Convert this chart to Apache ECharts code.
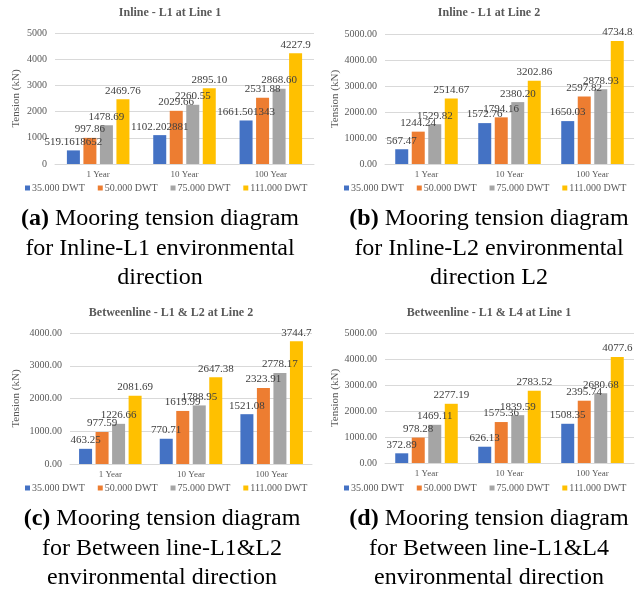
<!DOCTYPE html>
<html>
<head>
<meta charset="utf-8">
<script src="https://cdn.jsdelivr.net/npm/echarts@6/dist/echarts.min.js"></script>
<style>
html,body{margin:0;padding:0;background:#fff;}
#main{width:644px;height:593px;}
</style>
</head>
<body>
<div id="main"></div>
<script>
// ---- data ----
const categories = ['1 Year', '10 Year', '100 Year'];
const seriesNames = ['35.000 DWT', '50.000 DWT', '75.000 DWT', '111.000 DWT'];
const chartTitles = ['Inline - L1 at Line 1', 'Inline - L1 at Line 2', 'Betweenline - L1 & L2 at Line 2', 'Betweenline - L1 & L4 at Line 1'];
const yAxisName = 'Tension (kN)';

// (a) Inline - L1 at Line 1
const a_35 = ['519.1618652', '1102.202881', '1661.501343'];
const a_50 = ['997.86', '2029.66', '2531.88'];
const a_75 = ['1478.69', '2260.55', '2868.60'];
const a_111 = ['2469.76', '2895.10', '4227.9'];
// (b) Inline - L1 at Line 2
const b_35 = ['567.47', '1572.76', '1650.03'];
const b_50 = ['1244.24', '1794.16', '2597.82'];
const b_75 = ['1529.82', '2380.20', '2878.93'];
const b_111 = ['2514.67', '3202.86', '4734.8'];
// (c) Betweenline - L1 & L2 at Line 2
const c_35 = ['463.25', '770.71', '1521.08'];
const c_50 = ['977.59', '1619.99', '2323.91'];
const c_75 = ['1226.66', '1788.95', '2778.17'];
const c_111 = ['2081.69', '2647.38', '3744.7'];
// (d) Betweenline - L1 & L4 at Line 1
const d_35 = ['372.89', '626.13', '1508.35'];
const d_50 = ['978.28', '1575.36', '2395.74'];
const d_75 = ['1469.11', '1839.59', '2680.68'];
const d_111 = ['2277.19', '2783.52', '4077.6'];

const yMaxes = [5000, 5000, 4000, 5000];
const yIntervals = [1000, 1000, 1000, 1000];
const yDecimals = [0, 2, 2, 2];

const captions = [
  ['(a)', 'Mooring tension diagram', 'for Inline-L1 environmental', 'direction'],
  ['(b)', 'Mooring tension diagram', 'for Inline-L2 environmental', 'direction L2'],
  ['(c)', 'Mooring tension diagram', 'for Between line-L1&L2', 'environmental direction'],
  ['(d)', 'Mooring tension diagram', 'for Between line-L1&L4', 'environmental direction']
];

const chartData = [
  [a_35, a_50, a_75, a_111],
  [b_35, b_50, b_75, b_111],
  [c_35, c_50, c_75, c_111],
  [d_35, d_50, d_75, d_111]
];

// ---- styling / layout ----
const colors = ['#4472C4', '#ED7D31', '#A5A5A5', '#FFC000'];
const serif = '"Liberation Serif", "Times New Roman", serif';
const gray = '#595959';

const panels = [
  { left: 55, right: 644 - 314, top: 33, bottom: 593 - 164, titleX: 165, titleY: 2, legendX: 23, legendY: 181, nameGap: 33, capX: 155, capY: 199 },
  { left: 385, right: 644 - 634, top: 34, bottom: 593 - 164, titleX: 484, titleY: 2, legendX: 342, legendY: 181, nameGap: 43, capX: 484, capY: 199 },
  { left: 70, right: 644 - 312, top: 333, bottom: 593 - 464, titleX: 166, titleY: 302, legendX: 23, legendY: 481, nameGap: 48, capX: 157, capY: 499 },
  { left: 385, right: 644 - 634, top: 333, bottom: 593 - 463, titleX: 484, titleY: 302, legendX: 342, legendY: 481, nameGap: 43, capX: 484, capY: 499 }
];

const option = {
  animation: false,
  color: colors,
  title: [],
  grid: [],
  xAxis: [],
  yAxis: [],
  legend: [],
  series: []
};

panels.forEach((p, i) => {
  option.title.push({
    text: chartTitles[i],
    left: p.titleX, top: p.titleY, textAlign: 'center',
    textStyle: { fontFamily: serif, fontSize: 12, fontWeight: 'bold', color: gray }
  });
  const cap = captions[i];
  option.title.push({
    text: '{b|' + cap[0] + '} ' + cap[1] + '\n' + cap[2] + '\n' + cap[3],
    left: p.capX, top: p.capY, textAlign: 'center',
    textStyle: {
      fontFamily: serif, fontSize: 24, fontWeight: 'normal', color: '#000', lineHeight: 29.5, align: 'center',
      rich: { b: { fontFamily: serif, fontSize: 24, fontWeight: 'bold', color: '#000', lineHeight: 29.5 } }
    }
  });
  option.grid.push({ left: p.left, right: p.right, top: p.top, bottom: p.bottom });
  option.xAxis.push({
    type: 'category', gridIndex: i, data: categories,
    axisLine: { lineStyle: { color: '#D9D9D9' } },
    axisTick: { show: false },
    axisLabel: { fontFamily: serif, fontSize: 9, color: gray, margin: 6 }
  });
  option.yAxis.push({
    type: 'value', gridIndex: i, min: 0, max: yMaxes[i], interval: yIntervals[i],
    name: yAxisName, nameLocation: 'middle', nameGap: p.nameGap,
    nameTextStyle: { fontFamily: serif, fontSize: 11, color: gray },
    axisLine: { show: false }, axisTick: { show: false },
    splitLine: { lineStyle: { color: '#D9D9D9' } },
    axisLabel: { fontFamily: serif, fontSize: 10, color: gray, margin: 8, formatter: v => v.toFixed(yDecimals[i]) }
  });
  option.legend.push({
    data: seriesNames, left: p.legendX, top: p.legendY, width: 300, padding: 2,
    itemWidth: 5, itemHeight: 5, itemGap: 13, icon: 'rect',
    textStyle: { fontFamily: serif, fontSize: 10, color: gray, padding: [0, 0, 0, -3] }
  });
  chartData[i].forEach((arr, j) => {
    option.series.push({
      type: 'bar', name: seriesNames[j], xAxisIndex: i, yAxisIndex: i,
      data: arr.map(Number),
      barWidth: 13, barGap: '27%',
      itemStyle: { color: colors[j] },
      label: {
        show: true, position: 'top', distance: 3,
        fontFamily: serif, fontSize: 11, color: '#404040',
        formatter: q => arr[q.dataIndex]
      }
    });
  });
});

const chart = echarts.init(document.getElementById('main'));
chart.setOption(option);
</script>
</body>
</html>
